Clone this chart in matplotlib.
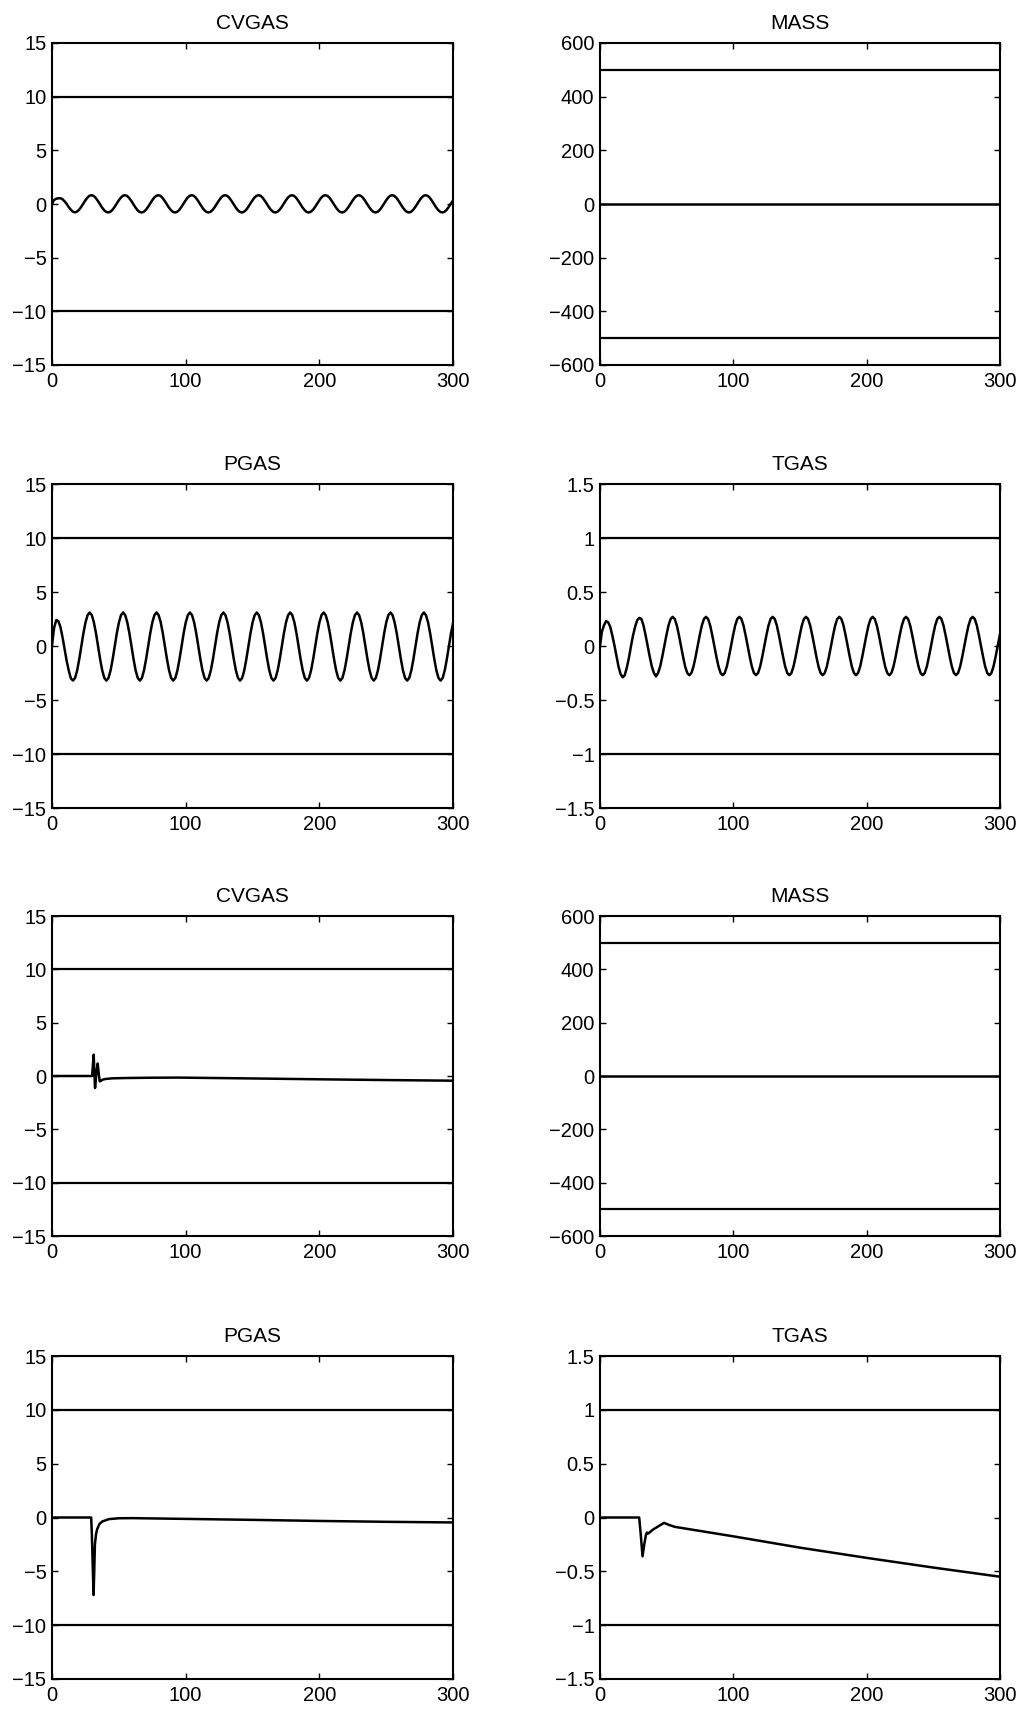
import numpy as np
import matplotlib
matplotlib.use("Agg")
import matplotlib.pyplot as plt
from matplotlib.ticker import FuncFormatter, FixedLocator

plt.rcParams['font.family'] = ['Liberation Sans', 'DejaVu Sans']

# ---------------- data ----------------
titles = ["CVGAS", "MASS", "PGAS", "TGAS", "CVGAS", "MASS", "PGAS", "TGAS"]
bounds = [10, 500, 10, 1, 10, 500, 10, 1]
x_ticks = [0, 100, 200, 300]
y_ticks_small = [-15, -10, -5, 0, 5, 10, 15]
y_ticks_mass = [-600, -400, -200, 0, 200, 400, 600]
y_ticks_t = [-1.5, -1, -0.5, 0, 0.5, 1, 1.5]

# oscillating run: values at t=0, then on a 1.5625 s grid, then at t=300
cvgas_osc = [0.00,
             0.35, 0.48, 0.53, 0.54, 0.47, 0.28, 0.05, -0.25, -0.50, -0.70, -0.78, -0.72, -0.56, -0.30, 0.00, 0.31, 0.58, 0.76,
             0.82, 0.76, 0.58, 0.31, 0.00, -0.30, -0.56, -0.73, -0.79, -0.73, -0.56, -0.30, 0.00, 0.31, 0.58, 0.76,
             0.82, 0.76, 0.58, 0.31, 0.00, -0.30, -0.56, -0.73, -0.79, -0.73, -0.56, -0.30, 0.00, 0.31, 0.58, 0.76,
             0.82, 0.76, 0.58, 0.31, 0.00, -0.30, -0.56, -0.73, -0.79, -0.73, -0.56, -0.30, 0.00, 0.31, 0.58, 0.76,
             0.82, 0.76, 0.58, 0.31, 0.00, -0.30, -0.56, -0.73, -0.79, -0.73, -0.56, -0.30, 0.00, 0.31, 0.58, 0.76,
             0.82, 0.76, 0.58, 0.31, 0.00, -0.30, -0.56, -0.73, -0.79, -0.73, -0.56, -0.30, 0.00, 0.31, 0.58, 0.76,
             0.82, 0.76, 0.58, 0.31, 0.00, -0.30, -0.56, -0.73, -0.79, -0.73, -0.56, -0.30, 0.00, 0.31, 0.58, 0.76,
             0.82, 0.76, 0.58, 0.31, 0.00, -0.30, -0.56, -0.73, -0.79, -0.73, -0.56, -0.30, 0.00, 0.31, 0.58, 0.76,
             0.82, 0.76, 0.58, 0.31, 0.00, -0.30, -0.56, -0.73, -0.79, -0.73, -0.56, -0.30, 0.00, 0.31, 0.58, 0.76,
             0.82, 0.76, 0.58, 0.31, 0.00, -0.30, -0.56, -0.73, -0.79, -0.73, -0.56, -0.30, 0.00, 0.31, 0.58, 0.76,
             0.82, 0.76, 0.58, 0.31, 0.00, -0.30, -0.56, -0.73, -0.79, -0.73, -0.56, -0.30, 0.00, 0.31, 0.58, 0.76,
             0.82, 0.76, 0.58, 0.31, 0.00, -0.30, -0.56, -0.73, -0.79, -0.73, -0.56, -0.30, 0.00, 0.31,
             0.33]

tgas_osc = [0.00,
            0.13, 0.19, 0.23, 0.22, 0.18, 0.10, 0.01, -0.09, -0.19, -0.26, -0.29, -0.27, -0.20, -0.11, 0.00, 0.10, 0.18, 0.24,
            0.26, 0.25, 0.19, 0.10, 0.00, -0.10, -0.19, -0.25, -0.28, -0.25, -0.19, -0.10, 0.00, 0.10, 0.19, 0.25,
            0.27, 0.25, 0.19, 0.10, 0.00, -0.10, -0.19, -0.25, -0.27, -0.25, -0.19, -0.10, 0.00, 0.10, 0.19, 0.25,
            0.27, 0.25, 0.19, 0.10, 0.00, -0.10, -0.19, -0.25, -0.27, -0.25, -0.19, -0.10, 0.00, 0.10, 0.19, 0.25,
            0.27, 0.25, 0.19, 0.10, 0.00, -0.10, -0.19, -0.25, -0.27, -0.25, -0.19, -0.10, 0.00, 0.10, 0.19, 0.25,
            0.27, 0.25, 0.19, 0.10, 0.00, -0.10, -0.19, -0.25, -0.27, -0.25, -0.19, -0.10, 0.00, 0.10, 0.19, 0.25,
            0.27, 0.25, 0.19, 0.10, 0.00, -0.10, -0.19, -0.25, -0.27, -0.25, -0.19, -0.10, 0.00, 0.10, 0.19, 0.25,
            0.27, 0.25, 0.19, 0.10, 0.00, -0.10, -0.19, -0.25, -0.27, -0.25, -0.19, -0.10, 0.00, 0.10, 0.19, 0.25,
            0.27, 0.25, 0.19, 0.10, 0.00, -0.10, -0.19, -0.25, -0.27, -0.25, -0.19, -0.10, 0.00, 0.10, 0.19, 0.25,
            0.27, 0.25, 0.19, 0.10, 0.00, -0.10, -0.19, -0.25, -0.27, -0.25, -0.19, -0.10, 0.00, 0.10, 0.19, 0.25,
            0.27, 0.25, 0.19, 0.10, 0.00, -0.10, -0.19, -0.25, -0.27, -0.25, -0.19, -0.10, 0.00, 0.10, 0.19, 0.25,
            0.27, 0.25, 0.19, 0.10, 0.00, -0.10, -0.19, -0.25, -0.27, -0.25, -0.19, -0.10, 0.00, 0.10,
            0.11]

# PGAS run: values at t=0, 0.8, 1.6, then on a 1.5625 s grid from 3.2, then at t=300
pgas_osc = [0.00, 0.90, 1.70,
            2.40, 2.30, 1.75, 0.80, -0.30, -1.40, -2.30, -3.00, -3.20, -2.96, -2.26, -1.22, 0.00, 1.19, 2.19, 2.86,
            3.10, 2.86, 2.19, 1.19, 0.00, -1.22, -2.26, -2.96, -3.20, -2.96, -2.26, -1.22, 0.00, 1.19, 2.19, 2.86,
            3.10, 2.86, 2.19, 1.19, 0.00, -1.22, -2.26, -2.96, -3.20, -2.96, -2.26, -1.22, 0.00, 1.19, 2.19, 2.86,
            3.10, 2.86, 2.19, 1.19, 0.00, -1.22, -2.26, -2.96, -3.20, -2.96, -2.26, -1.22, 0.00, 1.19, 2.19, 2.86,
            3.10, 2.86, 2.19, 1.19, 0.00, -1.22, -2.26, -2.96, -3.20, -2.96, -2.26, -1.22, 0.00, 1.19, 2.19, 2.86,
            3.10, 2.86, 2.19, 1.19, 0.00, -1.22, -2.26, -2.96, -3.20, -2.96, -2.26, -1.22, 0.00, 1.19, 2.19, 2.86,
            3.10, 2.86, 2.19, 1.19, 0.00, -1.22, -2.26, -2.96, -3.20, -2.96, -2.26, -1.22, 0.00, 1.19, 2.19, 2.86,
            3.10, 2.86, 2.19, 1.19, 0.00, -1.22, -2.26, -2.96, -3.20, -2.96, -2.26, -1.22, 0.00, 1.19, 2.19, 2.86,
            3.10, 2.86, 2.19, 1.19, 0.00, -1.22, -2.26, -2.96, -3.20, -2.96, -2.26, -1.22, 0.00, 1.19, 2.19, 2.86,
            3.10, 2.86, 2.19, 1.19, 0.00, -1.22, -2.26, -2.96, -3.20, -2.96, -2.26, -1.22, 0.00, 1.19, 2.19, 2.86,
            3.10, 2.86, 2.19, 1.19, 0.00, -1.22, -2.26, -2.96, -3.20, -2.96, -2.26, -1.22, 0.00, 1.19, 2.19, 2.86,
            3.10, 2.86, 2.19, 1.19, 0.00, -1.22, -2.26, -2.96, -3.20, -2.96, -2.26, -1.22, 0.00, 1.19,
            2.10]

mass_t = [0, 300]
mass_osc = [0, 0]

# sample times (time axis grid) for the oscillating runs
t_cv = np.concatenate([[0.0], 1.375 + 1.5625 * np.arange(len(cvgas_osc) - 2), [300.0]])
t_tg = np.concatenate([[0.0], 1.375 + 1.5625 * np.arange(len(tgas_osc) - 2), [300.0]])
t_pg = np.concatenate([[0.0, 0.8, 1.6], 3.2 + 1.5625 * np.arange(len(pgas_osc) - 4), [300.0]])

# disturbance runs
cv_dist_t = [0, 30.0, 30.6, 31.2, 31.7, 32.2, 32.8, 33.5, 34.2, 35.0, 35.7, 36.7,
             37.7, 40, 45, 55, 75, 95, 150, 200, 250, 300]
cv_dist = [0, 0, 1.0, 2.0, 0.3, -1.13, -0.3, 0.6, 1.17, 0.2, -0.5, -0.45,
           -0.35, -0.28, -0.22, -0.19, -0.16, -0.15, -0.23, -0.31, -0.38, -0.44]

mass_dist_t = [0, 300]
mass_dist = [0, 0]

pg_dist_t = [0, 29.3, 29.8, 30.6, 31.1, 31.6, 32.1, 33.0, 33.8, 35.5, 37.6, 42.6,
             50, 60, 100, 150, 200, 250, 300]
pg_dist = [0, 0, -1.5, -5.0, -7.2, -5.0, -2.5, -1.5, -1.08, -0.6, -0.37, -0.15,
           -0.07, -0.06, -0.13, -0.22, -0.32, -0.40, -0.46]

tg_dist_t = [0, 29.4, 30.5, 31.9, 33.2, 34.4, 35.2, 36.0, 40, 44, 48, 52, 56.2,
             100, 150, 200, 250, 300]
tg_dist = [0, 0, -0.15, -0.36, -0.25, -0.164, -0.14, -0.15, -0.11, -0.08, -0.05,
           -0.07, -0.087, -0.175, -0.28, -0.375, -0.465, -0.55]

series = [(t_cv, cvgas_osc), (mass_t, mass_osc), (t_pg, pgas_osc), (t_tg, tgas_osc),
          (cv_dist_t, cv_dist), (mass_dist_t, mass_dist), (pg_dist_t, pg_dist),
          (tg_dist_t, tg_dist)]
yticks_list = [y_ticks_small, y_ticks_mass, y_ticks_small, y_ticks_t,
               y_ticks_small, y_ticks_mass, y_ticks_small, y_ticks_t]

# ---------------- layout ----------------
W, H = 1024, 1711
fig = plt.figure(figsize=(W / 100, H / 100), dpi=100)
cols = [(52, 453), (600, 1000)]
rows = [(43, 365), (484, 808), (916, 1236), (1356, 1679)]


def fmt(v, pos):
    s = f"{v:g}"
    return s.replace("-", "\u2212")


for i in range(8):
    r, c = divmod(i, 2)
    x0, x1 = cols[c]
    y0, y1 = rows[r]
    ax = fig.add_axes([x0 / W, 1 - y1 / H, (x1 - x0) / W, (y1 - y0) / H])
    t, v = series[i]
    b = bounds[i]
    ax.axhline(b, color='black', lw=1.6)
    ax.axhline(-b, color='black', lw=1.6)
    ax.plot(t, v, color='black', lw=1.8, solid_joinstyle='round')
    yt = yticks_list[i]
    ax.set_xlim(0, 300)
    ax.set_ylim(yt[0], yt[-1])
    ax.xaxis.set_major_locator(FixedLocator(x_ticks))
    ax.yaxis.set_major_locator(FixedLocator(yt))
    ax.xaxis.set_major_formatter(FuncFormatter(fmt))
    ax.yaxis.set_major_formatter(FuncFormatter(fmt))
    ax.tick_params(direction='in', top=True, right=True, length=4, width=1,
                   labelsize=14.5, colors='black')
    ax.tick_params(axis='x', pad=5)
    ax.tick_params(axis='y', pad=4)
    for sp in ax.spines.values():
        sp.set_linewidth(1.5)
        sp.set_color('black')
    ax.set_title(titles[i], fontsize=15, pad=10)

fig.savefig("out.png", dpi=100)
